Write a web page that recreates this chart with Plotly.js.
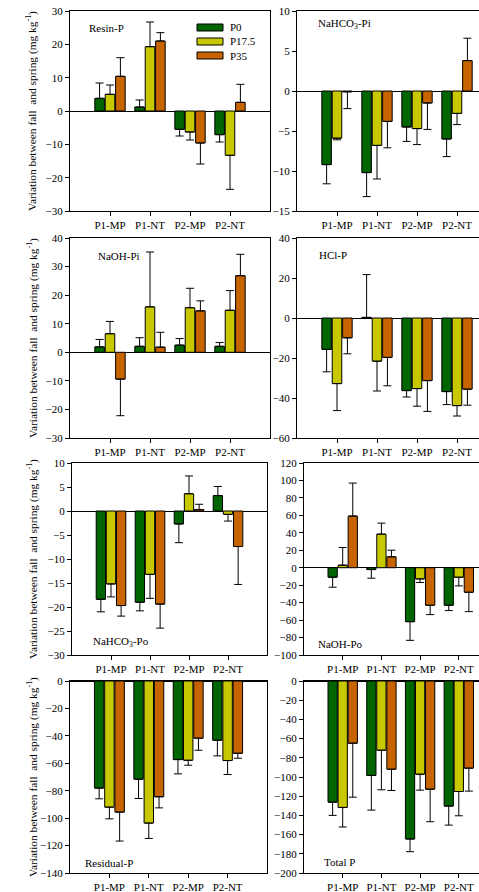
<!DOCTYPE html>
<html><head><meta charset="utf-8">
<script src="https://cdn.plot.ly/plotly-3.0.1.min.js"></script>
<style>html,body{margin:0;padding:0;background:#fff}#chart{width:479px;height:892px}</style>
</head><body><div id="chart"></div>
<script>
// ---------- DATA ----------
const categories = ['P1-MP', 'P1-NT', 'P2-MP', 'P2-NT'];
const seriesNames = ['P0', 'P17.5', 'P35'];
const seriesColors = ['#006400', '#c8c800', '#c86400'];
const panelLabels = ['Resin-P', 'NaHCO<sub>3</sub>-Pi', 'NaOH-Pi', 'HCl-P',
                     'NaHCO<sub>3</sub>-Po', 'NaOH-Po', 'Residual-P', 'Total P'];
const yTitle = 'Variation between fall  and spring (mg kg<sup>-1</sup>)';

// each: rows = P0, P17.5, P35 ; columns = categories
const resinP_mean = [[3.8, 1.2, -5.5, -7.1], [5.0, 19.3, -6.3, -13.3], [10.4, 21.0, -9.6, 2.6]];
const resinP_err  = [[4.6, 2.1, 2.0, 2.2],   [2.8, 7.4, 2.4, 10.2],     [5.6, 2.5, 6.3, 5.4]];

const nahco3Pi_mean = [[-9.2, -10.2, -4.5, -6.0], [-5.9, -6.8, -4.7, -2.8], [-0.1, -3.8, -1.5, 3.8]];
const nahco3Pi_err  = [[2.4, 3.0, 1.8, 2.2],      [0.2, 4.2, 2.0, 1.4],     [2.1, 3.3, 3.3, 2.8]];

const naohPi_mean = [[1.9, 2.1, 2.5, 2.1], [6.5, 15.9, 15.6, 14.7], [-9.4, 1.8, 14.5, 26.8]];
const naohPi_err  = [[2.6, 3.0, 2.3, 1.3], [4.3, 19.2, 6.8, 6.9],   [12.8, 5.2, 3.5, 7.5]];

const hclP_mean = [[-15.7, 0.3, -36.3, -36.8], [-32.8, -21.6, -35.3, -43.8], [-9.9, -19.7, -31.3, -35.6]];
const hclP_err  = [[11.2, 21.4, 3.2, 6.5],     [13.5, 14.9, 8.8, 5.2],       [8.0, 14.2, 15.4, 8.0]];

const nahco3Po_mean = [[-18.4, -19.0, -2.7, 3.2], [-15.2, -13.2, 3.6, -0.7], [-19.7, -19.4, 0.3, -7.4]];
const nahco3Po_err  = [[2.6, 1.8, 3.9, 1.9],      [2.7, 5.0, 3.7, 1.4],      [2.2, 5.0, 1.1, 7.9]];

const naohPo_mean = [[-10.9, -2.1, -61.8, -43.0], [2.9, 38.5, -12.8, -10.9], [59.2, 12.5, -43.0, -28.1]];
const naohPo_err  = [[11.4, 9.9, 21.4, 6.1],      [20.3, 12.6, 4.1, 9.9],    [37.8, 7.6, 10.7, 22.2]];

const residualP_mean = [[-78.1, -71.6, -57.3, -43.2], [-92.0, -103.6, -57.8, -58.0], [-95.6, -84.4, -41.7, -52.7]];
const residualP_err  = [[7.8, 14.1, 10.4, 11.4],      [8.5, 11.2, 3.6, 10.2],        [21.1, 8.1, 8.8, 3.6]];

const totalP_mean = [[-126.2, -98.4, -164.6, -130.3], [-131.7, -72.1, -97.1, -115.1], [-64.8, -91.9, -112.7, -90.8]];
const totalP_err  = [[13.8, 36.1, 13.2, 19.8],        [20.4, 41.2, 16.6, 25.3],       [56.2, 22.1, 33.9, 23.9]];

const yRanges = [[-30, 30], [-15, 10], [-30, 40], [-60, 40], [-30, 10], [-100, 120], [-140, 0], [-200, 0]];
const yDticks = [10, 5, 10, 20, 5, 20, 20, 20];

// ---------- LAYOUT HELPERS ----------
const W = 479, H = 892;
const px = v => v / W;
const py = v => 1 - v / H;
const FONT = 'Liberation Serif, Times New Roman, serif';

const means = [resinP_mean, nahco3Pi_mean, naohPi_mean, hclP_mean, nahco3Po_mean, naohPo_mean, residualP_mean, totalP_mean];
const errs  = [resinP_err, nahco3Pi_err, naohPi_err, hclP_err, nahco3Po_err, naohPo_err, residualP_err, totalP_err];

const rowY = [[11, 211], [238, 438], [463, 655], [681, 873]];
const leftX = [[70, 270], [70, 270], [72, 267], [70, 267]];
const rightX = [[297, 479], [297, 479], [304, 479], [304, 479]];
const spacing = [40, 40, 38.7, 38.7];

const traces = [];
const layout = {
  width: W, height: H,
  margin: {l: 0, r: 0, t: 0, b: 0},
  paper_bgcolor: '#fff', plot_bgcolor: 'rgba(0,0,0,0)',
  showlegend: false,
  barmode: 'group', bargap: 0.22, bargroupgap: 0.08,
  font: {family: FONT, size: 11, color: '#000'},
  annotations: [], shapes: []
};

for (let p = 0; p < 8; p++) {
  const row = Math.floor(p / 2), col = p % 2;
  const xs = p === 0 ? '' : String(p + 1);
  const xd = col === 0 ? leftX[row] : rightX[row];
  const sp = col === 0 ? (xd[1] - xd[0]) / 5 : spacing[row];
  const xrange = [-1, -1 + (xd[1] - xd[0]) / sp];
  layout['xaxis' + xs] = {
    domain: [px(xd[0]), px(xd[1])], anchor: 'y' + xs,
    type: 'category', categoryarray: categories, range: xrange,
    showline: true, linecolor: '#000', linewidth: 1, mirror: true,
    ticks: 'outside', ticklen: 4, tickcolor: '#000', tickwidth: 1,
    showgrid: false, zeroline: false, fixedrange: true,
    tickfont: {family: FONT, size: 11, color: '#000'}
  };
  layout['yaxis' + xs] = {
    domain: [py(rowY[row][1]), py(rowY[row][0])], anchor: 'x' + xs,
    range: yRanges[p], dtick: yDticks[p], tick0: 0,
    showline: true, linecolor: '#000', linewidth: 1, mirror: col === 0,
    ticks: 'outside', ticklen: 4, tickcolor: '#000', tickwidth: 1,
    showgrid: false, zeroline: true, zerolinecolor: '#000', zerolinewidth: 1,
    fixedrange: true,
    tickfont: {family: FONT, size: 11, color: '#000'}
  };
  for (let s = 0; s < 3; s++) {
    const m = means[p][s], e = errs[p][s];
    traces.push({
      type: 'bar', x: categories, y: m, name: seriesNames[s],
      xaxis: 'x' + xs, yaxis: 'y' + xs,
      marker: {color: seriesColors[s], line: {color: '#000', width: 1}},
      error_y: {
        type: 'data', symmetric: false,
        array: m.map((v, i) => v >= 0 ? e[i] : 0),
        arrayminus: m.map((v, i) => v < 0 ? e[i] : 0),
        color: '#000', thickness: 1, width: 4
      },
      hoverinfo: 'skip'
    });
  }
  if (col === 0) {
    layout.annotations.push({
      xref: 'paper', yref: 'paper', x: px(32), y: py((rowY[row][0] + rowY[row][1]) / 2),
      text: yTitle, textangle: -90, showarrow: false, xanchor: 'center', yanchor: 'middle',
      font: {family: FONT, size: 11.4, color: '#000'}
    });
  }
}

// panel labels
const labelPos = [[87, 28], [316, 24], [96, 256], [317, 255], [91, 642], [316, 644], [83, 863], [322, 862]];
labelPos.forEach((lp, i) => {
  layout.annotations.push({
    xref: 'paper', yref: 'paper', x: px(lp[0]), y: py(lp[1]), text: panelLabels[i],
    showarrow: false, xanchor: 'left', yanchor: 'middle',
    font: {family: FONT, size: 11, color: '#000'}
  });
});

// legend (inside Resin-P panel)
const legRows = [27.5, 41.5, 55.5];
seriesNames.forEach((n, i) => {
  layout.shapes.push({
    type: 'rect', xref: 'paper', yref: 'paper',
    x0: px(197), x1: px(223), y0: py(legRows[i] + 3.5), y1: py(legRows[i] - 3.5),
    fillcolor: seriesColors[i], line: {color: '#000', width: 1}
  });
  layout.annotations.push({
    xref: 'paper', yref: 'paper', x: px(228), y: py(legRows[i]), text: n,
    showarrow: false, xanchor: 'left', yanchor: 'middle',
    font: {family: FONT, size: 11, color: '#000'}
  });
});

Plotly.newPlot('chart', traces, layout, {staticPlot: true, displayModeBar: false});
</script>
</body></html>
